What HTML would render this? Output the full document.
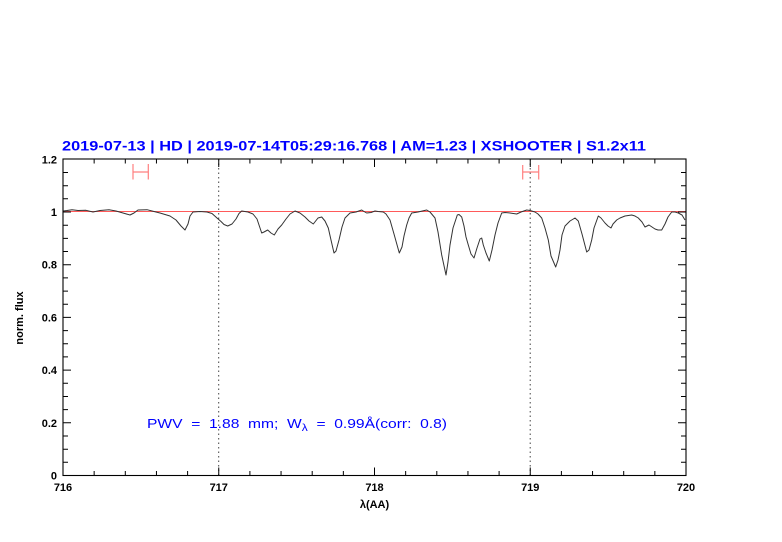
<!DOCTYPE html>
<html><head><meta charset="utf-8"><style>
html,body{margin:0;padding:0;background:#fff;}
svg{display:block;}
</style></head><body>
<svg width="782" height="542" viewBox="0 0 782 542" xmlns="http://www.w3.org/2000/svg">
<rect width="782" height="542" fill="#fff"/>
<text x="62" y="150.5" font-family="Liberation Sans, sans-serif" font-size="14" font-weight="bold" fill="#0000ff" textLength="584" lengthAdjust="spacingAndGlyphs">2019-07-13 | HD | 2019-07-14T05:29:16.768 | AM=1.23 | XSHOOTER | S1.2x11</text>
<line x1="63" y1="211.5" x2="686" y2="211.5" stroke="#ff5a5a" stroke-width="1"/>
<line x1="218.7" y1="159" x2="218.7" y2="475.5" stroke="#444" stroke-width="1" stroke-dasharray="1.5,3"/>
<line x1="530.2" y1="159" x2="530.2" y2="475.5" stroke="#444" stroke-width="1" stroke-dasharray="1.5,3"/>
<g stroke="#ff8080" stroke-width="1.2" fill="none">
<path d="M133,172H148.3M133,164V179.5M148.3,164V179.5M522.7,172H538.7M522.7,165V179.5M538.7,165V179.5"/>
</g>
<polyline fill="none" stroke="#333" stroke-width="1" stroke-linejoin="round" points="63.3,211 67,210.5 72,209.7 78,210.5 86,210.3 93,212 100,210.5 109,209.7 116,211 123,213 130,215 134,213 138,210 147,209.7 154,211.5 160,213 165,214.5 170,216 176,220 181,226 185,230 188,224 190,216 193,212 200,211.5 207,212 212,213.5 217,218 221,221.5 224,224.5 227.7,226 232,224 236,219 239,213.5 241.7,211 248,212 253,214 257,219 261.7,233 264,232 267.7,230 271,233 274.3,235 278,229 281.7,225 286,219 290,214 295,211 300,213 305,217 309,221 313.3,224 318,218 321.7,217 325,221 328.3,228 331,240 334,253 336,251 339,240 342,227 345,218 350,213 356,212 361.7,210 364,211.5 366.7,213 371,212.5 375,211 378,211.5 383.3,212 386,214 390,220 394,234 399.3,253 402,247 404,236 406.7,225 409,218 411.7,213 418,212 426.7,210 430,212 435,218 438,232 441.7,255 446,275 448,262 450,245 453,228 457.3,215 459,214.5 461.7,217 464,226 466,237 468.3,245 471,254 474,258 477,248 480,239 481.7,238 483.3,245 486,253 489.3,261 492,250 495,235 498,223 501.7,213 505,212.5 510,213 516.7,214 521,212 526.7,210 530,210.5 535,212 538,214 541.7,218 545,228 548.3,240 551,256 555.7,267 558,260 560,250 562,235 565,226 570,221 575,218 578.3,221 582,234 586.7,252 589,250 591.7,240 594,228 598.3,216 601,218 605,223 608,226 611,228 613,224 616.7,220 620,218 625,216 631.7,215 635,216 638.3,218 642,222 645,227 649,225 652,227 655,229 658,230 661.7,230 665,224 668,217 671.7,212 675,212 678.3,213 682,215 685,220"/>
<rect x="63" y="159" width="623" height="316.5" fill="none" stroke="#000" stroke-width="1.1"/>
<path stroke="#000" stroke-width="1" fill="none" d="
M63,475.5v-8M63,159v8M218.75,475.5v-8M218.75,159v8M374.5,475.5v-8M374.5,159v8M530.25,475.5v-8M530.25,159v8
M94.15,475.5v-4.5M94.15,159v4.5M125.3,475.5v-4.5M125.3,159v4.5M156.45,475.5v-4.5M156.45,159v4.5M187.6,475.5v-4.5M187.6,159v4.5
M249.9,475.5v-4.5M249.9,159v4.5M281.05,475.5v-4.5M281.05,159v4.5M312.2,475.5v-4.5M312.2,159v4.5M343.35,475.5v-4.5M343.35,159v4.5
M405.65,475.5v-4.5M405.65,159v4.5M436.8,475.5v-4.5M436.8,159v4.5M467.95,475.5v-4.5M467.95,159v4.5M499.1,475.5v-4.5M499.1,159v4.5
M561.4,475.5v-4.5M561.4,159v4.5M592.55,475.5v-4.5M592.55,159v4.5M623.7,475.5v-4.5M623.7,159v4.5M654.85,475.5v-4.5M654.85,159v4.5
M63,422.8h8M686,422.8h-8M63,370.1h8M686,370.1h-8M63,317.4h8M686,317.4h-8M63,264.7h8M686,264.7h-8M63,212h8M686,212h-8
M63,462.3h5M686,462.3h-5M63,449.2h5M686,449.2h-5M63,436h5M686,436h-5
M63,409.6h5M686,409.6h-5M63,396.5h5M686,396.5h-5M63,383.3h5M686,383.3h-5
M63,356.9h5M686,356.9h-5M63,343.8h5M686,343.8h-5M63,330.6h5M686,330.6h-5
M63,304.2h5M686,304.2h-5M63,291.1h5M686,291.1h-5M63,277.9h5M686,277.9h-5
M63,251.5h5M686,251.5h-5M63,238.4h5M686,238.4h-5M63,225.2h5M686,225.2h-5
M63,198.8h5M686,198.8h-5M63,185.7h5M686,185.7h-5M63,172.5h5M686,172.5h-5"/>
<g font-family="Liberation Sans, sans-serif" font-size="11" font-weight="bold" fill="#000" text-anchor="end">
<text x="57" y="479.5">0</text>
<text x="57" y="426.8">0.2</text>
<text x="57" y="374.1">0.4</text>
<text x="57" y="321.4">0.6</text>
<text x="57" y="268.7">0.8</text>
<text x="57" y="216">1</text>
<text x="57" y="163.3">1.2</text>
</g>
<g font-family="Liberation Sans, sans-serif" font-size="11" font-weight="bold" fill="#000" text-anchor="middle">
<text x="63" y="491">716</text>
<text x="218.75" y="491">717</text>
<text x="374.5" y="491">718</text>
<text x="530.25" y="491">719</text>
<text x="686" y="491">720</text>
<text x="374.5" y="508">λ(AA)</text>
</g>
<text transform="translate(23,318) rotate(-90)" font-family="Liberation Sans, sans-serif" font-size="11" font-weight="bold" fill="#000" text-anchor="middle">norm. flux</text>
<text x="147" y="428" font-family="Liberation Sans, sans-serif" font-size="13" fill="#0000ff" textLength="300" lengthAdjust="spacingAndGlyphs" xml:space="preserve">PWV  =  1.88  mm;  W<tspan font-size="10" dy="3">λ</tspan><tspan dy="-3">  =  0.99Å(corr:  0.8)</tspan></text>
</svg>
</body></html>
